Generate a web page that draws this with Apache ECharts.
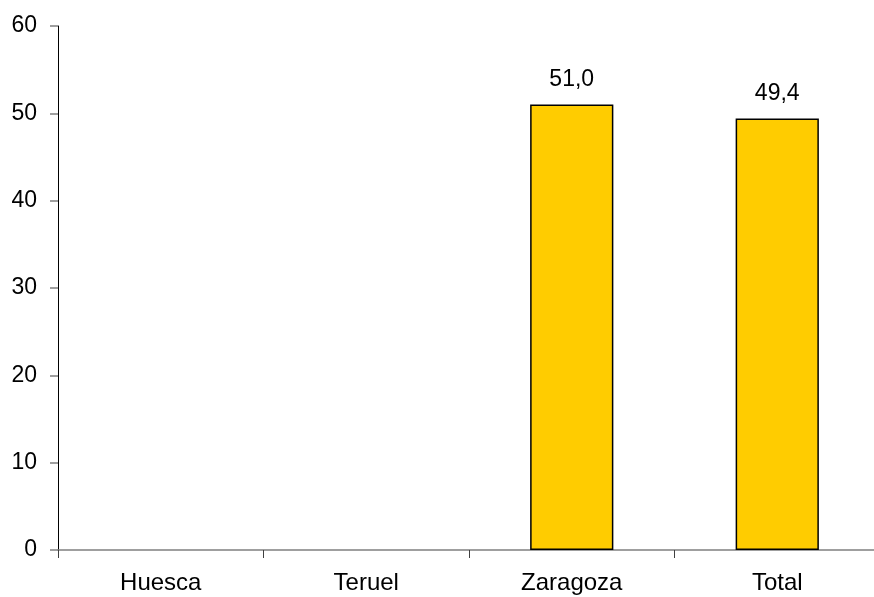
<!DOCTYPE html>
<html>
<head>
<meta charset="utf-8">
<script src="https://cdn.jsdelivr.net/npm/echarts@6/dist/echarts.min.js"></script>
<style>
html,body{margin:0;padding:0;background:#fff;}
#chart{width:874px;height:597px;}
</style>
</head>
<body>
<div id="chart"></div>
<script>
const categories = ['Huesca', 'Teruel', 'Zaragoza', 'Total'];
const values = [null, null, 51.0, 49.4];
const yTicks = [0, 10, 20, 30, 40, 50, 60];

const chart = echarts.init(document.getElementById('chart'));
const font = 'Liberation Sans, Arial, sans-serif';
chart.setOption({
  animation: false,
  grid: { left: 58, width: 822, top: 26, bottom: 47, containLabel: false, outerBoundsMode: 'none' },
  xAxis: {
    type: 'category',
    data: categories,
    boundaryGap: true,
    axisLine: { show: true, lineStyle: { color: '#808080', width: 1.5 } },
    axisTick: { show: true, length: 8, inside: false, lineStyle: { color: '#404040', width: 1 } },
    axisLabel: { color: '#000', fontFamily: font, fontSize: 24, margin: 21 },
    splitLine: { show: false }
  },
  yAxis: {
    type: 'value',
    min: yTicks[0],
    max: yTicks[yTicks.length - 1],
    interval: 10,
    axisLine: { show: true, lineStyle: { color: '#000', width: 1 } },
    axisTick: { show: true, length: 8, lineStyle: { color: '#808080', width: 1.5 } },
    axisLabel: { color: '#000', fontFamily: font, fontSize: 23, margin: 21 },
    splitLine: { show: false }
  },
  series: [{
    type: 'bar',
    data: values,
    barWidth: '40.5%',
    itemStyle: { color: '#FFCC00', borderColor: '#000', borderWidth: 1.5 },
    label: {
      show: true,
      position: 'top',
      distance: 13,
      color: '#000',
      fontFamily: font,
      fontSize: 23,
      formatter: p => p.value == null ? '' : p.value.toFixed(1).replace('.', ',')
    }
  }]
});
</script>
</body>
</html>
